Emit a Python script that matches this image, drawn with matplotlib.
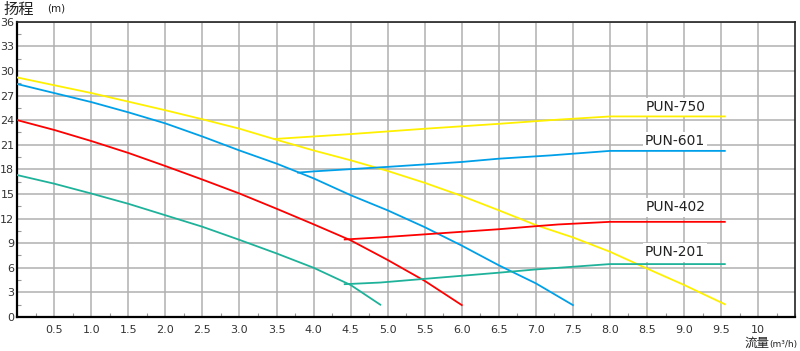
import numpy as np
import matplotlib
matplotlib.use('Agg')
import matplotlib.pyplot as plt
from matplotlib.ticker import MultipleLocator

plt.rcParams['font.family'] = ['DejaVu Sans', 'Noto Sans CJK SC']

# pump curves (flow m3/h, head m)
x_750 = [0, 0.5, 1.0, 1.5, 2.0, 2.5, 3.0, 3.5, 4.0, 4.5, 5.0, 5.5, 6.0, 6.5, 7.0, 7.5, 8.0, 8.5, 9.0, 9.55]
y_750 = [29.2, 28.25, 27.3, 26.25, 25.2, 24.1, 22.95, 21.6, 20.3, 19.1, 17.8, 16.35, 14.75, 13.0, 11.2, 9.7, 7.95, 5.9, 3.9, 1.55]

x_601 = [0, 0.5, 1.0, 1.5, 2.0, 2.5, 3.0, 3.5, 4.0, 4.5, 5.0, 5.5, 6.0, 6.5, 7.0, 7.5]
y_601 = [28.4, 27.3, 26.2, 24.95, 23.6, 22.0, 20.3, 18.7, 16.9, 14.85, 13.0, 10.95, 8.7, 6.3, 4.1, 1.45]

x_402 = [0, 0.5, 1.0, 1.5, 2.0, 2.5, 3.0, 3.5, 4.0, 4.5, 5.0, 5.5, 6.0]
y_402 = [24.0, 22.8, 21.45, 20.0, 18.4, 16.75, 15.05, 13.2, 11.3, 9.35, 6.95, 4.4, 1.45]

x_201 = [0, 0.5, 1.0, 1.5, 2.0, 2.5, 3.0, 3.5, 4.0, 4.5, 4.9]
y_201 = [17.3, 16.25, 15.05, 13.8, 12.4, 11.0, 9.4, 7.75, 6.0, 3.9, 1.5]

# operating lines
ox_750 = [3.47, 4.5, 5.5, 6.5, 7.2, 8.0, 9.55]
oy_750 = [21.7, 22.3, 22.95, 23.55, 24.0, 24.45, 24.45]
ox_601 = [3.79, 4.0, 5.0, 6.0, 6.5, 7.2, 8.0, 9.55]
oy_601 = [17.6, 17.75, 18.3, 18.9, 19.3, 19.7, 20.25, 20.25]
ox_402 = [4.42, 4.9, 6.5, 7.0, 7.3, 8.0, 9.55]
oy_402 = [9.45, 9.7, 10.7, 11.07, 11.28, 11.6, 11.6]
ox_201 = [4.42, 4.9, 6.5, 7.0, 8.0, 9.55]
oy_201 = [4.0, 4.2, 5.4, 5.8, 6.45, 6.45]

names = ['PUN-750', 'PUN-601', 'PUN-402', 'PUN-201']
label_y = [25.55, 21.45, 13.35, 7.87]
colors = ['#fff000', '#00a0e9', '#ff0000', '#1fb29a']

x_ticks = [0.5, 1.0, 1.5, 2.0, 2.5, 3.0, 3.5, 4.0, 4.5, 5.0, 5.5, 6.0, 6.5, 7.0, 7.5, 8.0, 8.5, 9.0, 9.5, 10]
x_labels = ['0.5', '1.0', '1.5', '2.0', '2.5', '3.0', '3.5', '4.0', '4.5', '5.0',
            '5.5', '6.0', '6.5', '7.0', '7.5', '8.0', '8.5', '9.0', '9.5', '10']
y_ticks = list(range(0, 37, 3))

fig = plt.figure(figsize=(8, 3.51), dpi=100)
ax = fig.add_axes([0.0215, 0.0969, 0.9725, 0.8413])

curves = [(x_750, y_750), (x_601, y_601), (x_402, y_402), (x_201, y_201)]
ops = [(ox_750, oy_750), (ox_601, oy_601), (ox_402, oy_402), (ox_201, oy_201)]
for (cx, cy), (ox, oy), c in zip(curves, ops, colors):
    ax.plot(cx, cy, color=c, lw=1.3, zorder=3)
    ax.plot(ox, oy, color=c, lw=1.3, zorder=3)

for name, ly in zip(names, label_y):
    ax.text(8.88, ly, name, ha='center', va='center', fontsize=10, color='#222222',
            bbox=dict(facecolor='white', edgecolor='none', pad=1.5), zorder=2)

ax.set_xlim(0, 10.5)
ax.set_ylim(0, 36)
ax.set_xticks(x_ticks)
ax.set_xticklabels(x_labels)
ax.set_yticks(y_ticks)
ax.xaxis.set_minor_locator(MultipleLocator(0.25))
ax.yaxis.set_minor_locator(MultipleLocator(1.5))
ax.tick_params(which='major', length=0, labelsize=8, colors='#333333')
ax.tick_params(axis='y', which='major', pad=2)
ax.tick_params(axis='x', which='major', pad=6)
ax.tick_params(which='minor', direction='in', length=3, color='#999999', width=0.8)
ax.grid(True, which='major', color='#b0b0b0', lw=1.1)
ax.set_axisbelow(True)
for s in ['left', 'bottom']:
    ax.spines[s].set_linewidth(1.6)
for s in ['top', 'right']:
    ax.spines[s].set_linewidth(1.2)
    ax.spines[s].set_color('#222222')

fig.text(0.004, 0.997, '扬程', fontsize=11, family=['Noto Sans CJK SC'], va='top', color='#222222')
fig.text(0.059, 0.975, '(m)', fontsize=7.5, va='center', color='#222222')
fig.text(0.931, 0.004, '流量', fontsize=9, family=['Noto Sans CJK SC'], va='bottom', color='#222222')
fig.text(0.962, 0.018, '(m³/h)', fontsize=6.5, va='center', color='#222222')

plt.savefig('out.png', dpi=100)
